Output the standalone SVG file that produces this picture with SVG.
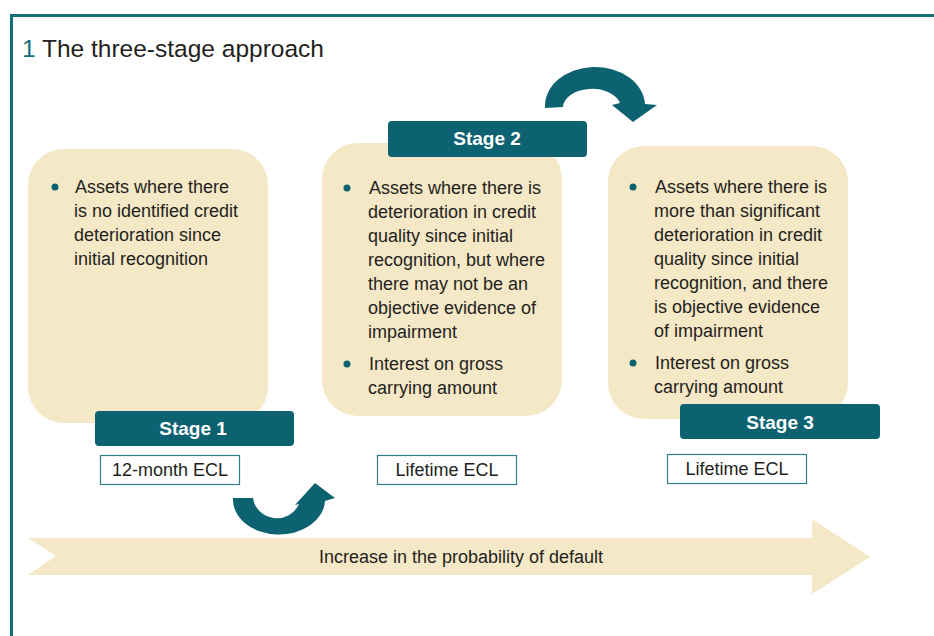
<svg xmlns="http://www.w3.org/2000/svg" width="934" height="636" viewBox="0 0 934 636">
<style>
.frame{fill:none;stroke:#12707b;stroke-width:3}
.card{fill:#f5e8c6}
.bar{fill:#0d6271}
.bt{font-family:"Liberation Sans",Arial,sans-serif;font-size:19px;font-weight:bold;fill:#ffffff;text-anchor:middle}
.tx{font-family:"Liberation Sans",Arial,sans-serif;font-size:18px;fill:#231f20}
.ecl{fill:#ffffff;stroke:#2f7e88;stroke-width:1.2}
.mid{text-anchor:middle}
.dot{fill:#0d6271}
.curl{fill:#0d6271}
</style>
<rect width="934" height="636" fill="#ffffff"/>
<path class="frame" d="M11.5,636 L11.5,15.5 L934,15.5"/>
<text x="22" y="57" style="font-family:'Liberation Sans',Arial,sans-serif;font-size:24.5px;fill:#231f20"><tspan fill="#12707b">1</tspan> The three-stage approach</text>

<g id="progress-arrow">
<polygon class="card" points="28,538 812,538 812,519 870,557 812,594 812,575 28,575 56,556"/>
<text class="tx mid" x="461" y="563">Increase in the probability of default</text>
</g>

<g id="stage1">
<rect class="card" x="28" y="149" width="240" height="274" rx="36"/>
<circle class="dot" cx="55" cy="187" r="3.5"/>
<text class="tx" x="75" y="193">Assets where there</text>
<text class="tx" x="74" y="217">is no identified credit</text>
<text class="tx" x="74" y="241">deterioration since</text>
<text class="tx" x="74" y="265">initial recognition</text>
<rect class="bar" x="95" y="411" width="199" height="35" rx="4"/>
<text class="bt" x="193" y="435">Stage 1</text>
<rect class="ecl" x="100.5" y="455.5" width="139" height="29"/>
<text class="tx mid" x="170" y="476">12-month ECL</text>
</g>

<g id="stage2">
<rect class="card" x="322" y="143" width="240" height="273" rx="36"/>
<circle class="dot" cx="347" cy="188" r="3.5"/>
<text class="tx" x="369" y="194">Assets where there is</text>
<text class="tx" x="368" y="218">deterioration in credit</text>
<text class="tx" x="368" y="242">quality since initial</text>
<text class="tx" x="368" y="266">recognition, but where</text>
<text class="tx" x="368" y="290">there may not be an</text>
<text class="tx" x="368" y="314">objective evidence of</text>
<text class="tx" x="368" y="338">impairment</text>
<circle class="dot" cx="347" cy="364" r="3.5"/>
<text class="tx" x="369" y="370">Interest on gross</text>
<text class="tx" x="368" y="394">carrying amount</text>
<rect class="bar" x="388" y="121" width="199" height="36" rx="4"/>
<text class="bt" x="487" y="145">Stage 2</text>
<rect class="ecl" x="377.5" y="455.5" width="139" height="29"/>
<text class="tx mid" x="447" y="476">Lifetime ECL</text>
</g>

<g id="stage3">
<rect class="card" x="608" y="146" width="240" height="273" rx="36"/>
<circle class="dot" cx="633" cy="187" r="3.5"/>
<text class="tx" x="655" y="193">Assets where there is</text>
<text class="tx" x="654" y="217">more than significant</text>
<text class="tx" x="654" y="241">deterioration in credit</text>
<text class="tx" x="654" y="265">quality since initial</text>
<text class="tx" x="654" y="289">recognition, and there</text>
<text class="tx" x="654" y="313">is objective evidence</text>
<text class="tx" x="654" y="337">of impairment</text>
<circle class="dot" cx="633" cy="363" r="3.5"/>
<text class="tx" x="655" y="369">Interest on gross</text>
<text class="tx" x="654" y="393">carrying amount</text>
<rect class="bar" x="680" y="404" width="200" height="35" rx="4"/>
<text class="bt" x="780" y="429">Stage 3</text>
<rect class="ecl" x="667.5" y="454.5" width="139" height="29"/>
<text class="tx mid" x="737" y="475">Lifetime ECL</text>
</g>

<g id="connectors">
<path class="curl" d="M545,108 A50,39 0 0 1 645,104 L657,105 L633,122 L612,105 L620,103 A29,19 0 0 0 563,107 Z"/>
<path class="curl" d="M233,498 A46,35 0 0 0 325,501 L335,498 L315,483 L295,505 L299,504 A24,23 0 0 1 253,498 Z"/>
</g>
</svg>
